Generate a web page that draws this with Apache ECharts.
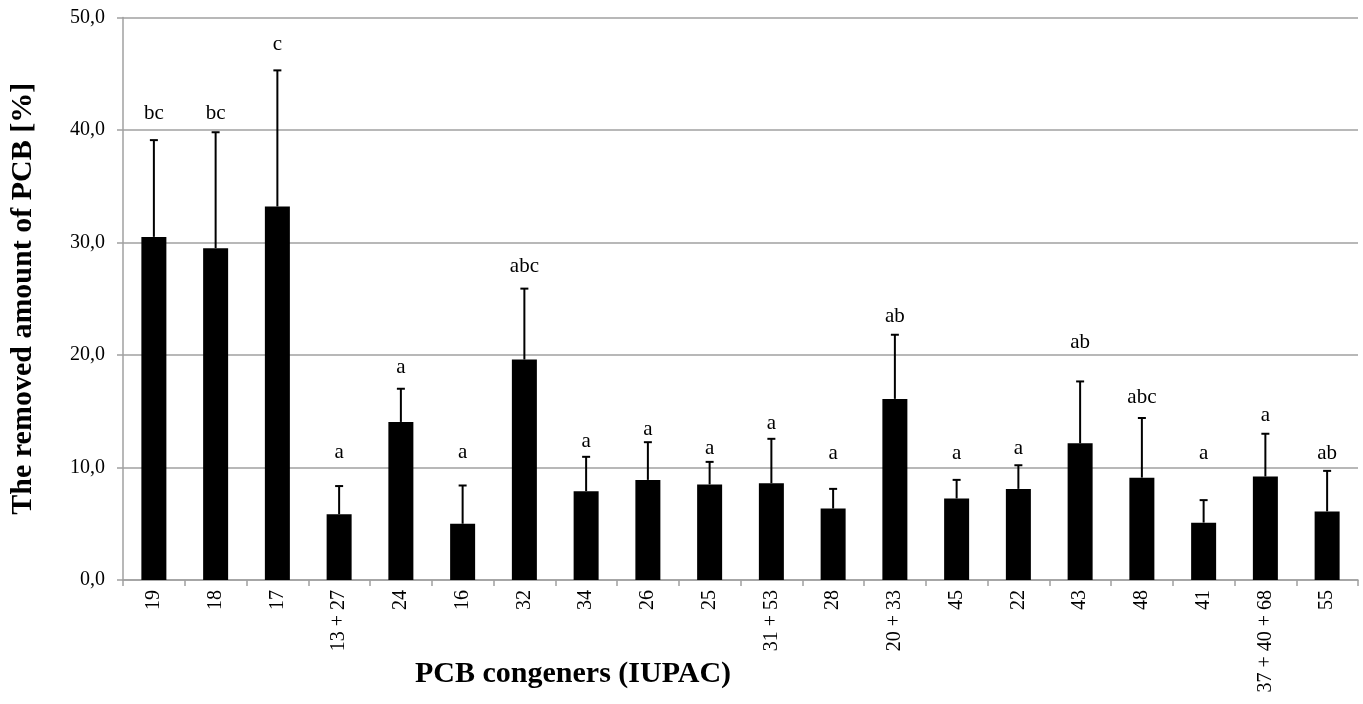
<!DOCTYPE html>
<html><head><meta charset="utf-8">
<script src="https://cdn.jsdelivr.net/npm/echarts@6/dist/echarts.min.js"></script>
<style>html,body{margin:0;padding:0;background:#fff}#c{width:1363px;height:704px}</style>
</head><body><div id="c"></div>
<script>
const categories = ['19','18','17','13 + 27','24','16','32','34','26','25','31 + 53','28','20 + 33','45','22','43','48','41','37 + 40 + 68','55'];
const means = [30.5,29.5,33.2,5.85,14.05,5.0,19.6,7.9,8.9,8.5,8.6,6.35,16.1,7.25,8.1,12.15,9.1,5.1,9.2,6.1];
const errTops = [39.1,39.8,45.3,8.35,17.0,8.4,25.9,10.95,12.25,10.5,12.55,8.1,21.8,8.9,10.2,17.65,14.4,7.1,13.0,9.7];
const letters = ['bc','bc','c','a','a','a','abc','a','a','a','a','a','ab','a','a','ab','abc','a','a','ab'];
const letterPos = [41.5,41.5,47.6,11.3,18.9,11.3,27.85,12.35,13.4,11.65,13.9,11.25,23.4,11.25,11.65,21.1,16.2,11.25,14.6,11.25];
const yTicks = [0,10,20,30,40,50];

const serif = '"Liberation Serif", "DejaVu Serif", serif';
const chart = echarts.init(document.getElementById('c'));
chart.setOption({
  animation: false,
  grid: {left: 122, right: 5, top: 17.5, bottom: 124, containLabel: false},
  xAxis: {
    type: 'category', data: categories,
    axisLine: {lineStyle: {color: '#a0a0a0', width: 1.5}},
    axisTick: {show: true, alignWithLabel: false, length: 6, lineStyle: {color: '#a0a0a0', width: 1.5}},
    axisLabel: {rotate: 90, fontFamily: serif, fontSize: 20, color: '#000', margin: 10, interval: 0}
  },
  yAxis: {
    type: 'value', min: 0, max: 50, interval: 10,
    name: 'The removed amount of PCB [%]', nameLocation: 'middle', nameGap: 85,
    nameTextStyle: {fontFamily: serif, fontSize: 30, fontWeight: 'bold', color: '#000'},
    axisLine: {show: true, lineStyle: {color: '#a0a0a0', width: 1.5}},
    axisTick: {show: true, length: 6, lineStyle: {color: '#a0a0a0', width: 1.5}},
    splitLine: {lineStyle: {color: '#a0a0a0', width: 1.5}},
    axisLabel: {fontFamily: serif, fontSize: 20, color: '#000', margin: 18,
      formatter: v => yTicks.includes(v) ? v.toFixed(1).replace('.', ',') : ''}
  },
  graphic: [{type: 'text', left: 415, top: 659,
    style: {text: 'PCB congeners (IUPAC)', font: 'bold 30px ' + serif, fill: '#000'}}],
  series: [
    {type: 'bar', data: means, barWidth: 25, itemStyle: {color: '#000'}},
    {type: 'custom', data: categories.map((c, i) => [i, means[i], errTops[i]]),
      renderItem: (params, api) => {
        const base = api.coord([api.value(0), api.value(1)]);
        const top = api.coord([api.value(0), api.value(2)]);
        const style = {stroke: '#000', lineWidth: 2};
        return {type: 'group', children: [
          {type: 'line', shape: {x1: base[0], y1: base[1], x2: top[0], y2: top[1]}, style},
          {type: 'line', shape: {x1: top[0] - 4, y1: top[1], x2: top[0] + 4, y2: top[1]}, style}
        ]};
      }, z: 3},
    {type: 'custom', data: categories.map((c, i) => [i, letterPos[i]]),
      renderItem: (params, api) => {
        const p = api.coord([api.value(0), api.value(1)]);
        return {type: 'text', x: p[0], y: p[1],
          style: {text: letters[params.dataIndex], font: '21px ' + serif, fill: '#000',
            align: 'center', verticalAlign: 'middle'}};
      }, z: 4}
  ]
});
</script></body></html>
